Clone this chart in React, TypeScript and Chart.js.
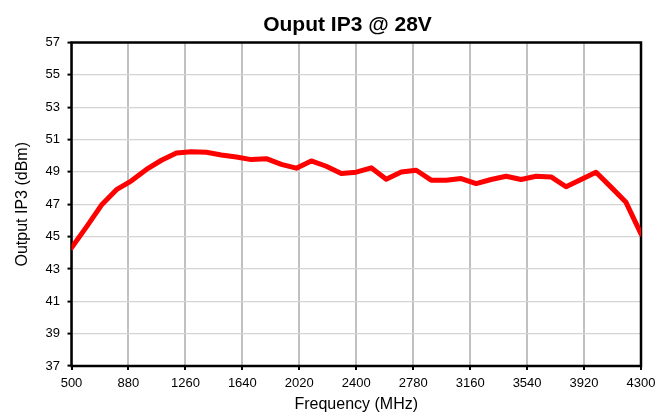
import React, { useEffect, useRef } from "react";
import { Chart, registerables } from "chart.js";

Chart.register(...registerables);

const FREQ_MHZ = [
  500, 600, 700, 800, 900, 1000, 1100, 1200, 1300, 1400, 1500, 1600, 1700,
  1800, 1900, 2000, 2100, 2200, 2300, 2400, 2500, 2600, 2700, 2800, 2900,
  3000, 3100, 3200, 3300, 3400, 3500, 3600, 3700, 3800, 3900, 4000, 4100,
  4200, 4300,
];
const OIP3_DBM = [
  44.3, 45.6, 46.95, 47.9, 48.45, 49.15, 49.72, 50.17, 50.25, 50.21, 50.05,
  49.92, 49.76, 49.82, 49.47, 49.23, 49.68, 49.35, 48.9, 48.98, 49.25, 48.55,
  49.0, 49.1, 48.49, 48.49, 48.59, 48.28, 48.53, 48.73, 48.53, 48.73, 48.69,
  48.08, 48.53, 48.98, 48.06, 47.12, 45.17,
];
const X_MIN = 500;
const X_MAX = 4300;
const X_STEP = 380;
const Y_MIN = 37;
const Y_MAX = 57;
const Y_STEP = 2;

const TITLE = "Ouput IP3 @ 28V";
const X_TITLE = "Frequency (MHz)";
const Y_TITLE = "Output IP3 (dBm)";

const FONT = "'Liberation Sans', Arial, Helvetica, sans-serif";

export default function App() {
  const ref = useRef<HTMLCanvasElement | null>(null);

  useEffect(() => {
    document.body.style.margin = "0";
    const canvas = ref.current;
    if (!canvas) return;

    const framePlugin = {
      id: "frame",
      beforeDatasetsDraw(chart: any) {
        const { ctx, chartArea } = chart;
        ctx.save();
        ctx.strokeStyle = "#000";
        ctx.lineWidth = 2.5;
        ctx.strokeRect(
          chartArea.left,
          chartArea.top,
          chartArea.right - chartArea.left,
          chartArea.bottom - chartArea.top
        );
        ctx.restore();
      },
      afterDraw(chart: any) {
        const { ctx } = chart;
        ctx.save();
        ctx.fillStyle = "#000";
        ctx.font = `bold 21px ${FONT}`;
        ctx.textAlign = "center";
        ctx.textBaseline = "alphabetic";
        ctx.fillText(TITLE, 347.5, 30.7);
        ctx.restore();
      },
    };

    const chart = new Chart(canvas, {
      type: "line",
      data: {
        datasets: [
          {
            label: Y_TITLE,
            data: FREQ_MHZ.map((f, i) => ({ x: f, y: OIP3_DBM[i] })),
            borderColor: "#ff0000",
            backgroundColor: "#ff0000",
            borderWidth: 5,
            pointRadius: 0,
            tension: 0,
            borderJoinStyle: "round",
            borderCapStyle: "round",
          },
        ],
      },
      options: {
        responsive: false,
        animation: false,
        layout: { padding: { top: 42.5, right: 27, left: 0, bottom: 0 } },
        plugins: {
          legend: { display: false },
          title: { display: false },
          tooltip: { enabled: false },
        },
        scales: {
          x: {
            type: "linear",
            min: X_MIN,
            max: X_MAX,
            afterFit: (s: any) => {
              s.height = 49;
            },
            ticks: {
              stepSize: X_STEP,
              color: "#000",
              font: { family: FONT, size: 13 },
              padding: 6,
              maxRotation: 0,
              autoSkip: false,
              callback: (v: any) => String(v),
            },
            grid: {
              color: "#c0c0c0",
              lineWidth: 2,
              drawTicks: true,
              tickLength: 4,
              tickColor: "#000",
              tickWidth: 2,
            },
            border: { display: false },
            title: {
              display: true,
              text: X_TITLE,
              color: "#000",
              font: { family: FONT, size: 16 },
              padding: { top: 0, bottom: 1 },
            },
          },
          y: {
            min: Y_MIN,
            max: Y_MAX,
            afterFit: (s: any) => {
              s.width = 71.5;
            },
            ticks: {
              stepSize: Y_STEP,
              color: "#000",
              font: { family: FONT, size: 13 },
              padding: 7.5,
              callback: (v: any) => String(v),
            },
            grid: {
              color: "#d4d4d4",
              lineWidth: 1.2,
              drawTicks: true,
              tickLength: 4,
              tickColor: "#000",
              tickWidth: 2,
            },
            border: { display: false },
            title: {
              display: true,
              text: Y_TITLE,
              color: "#000",
              font: { family: FONT, size: 16 },
              padding: { top: 13, bottom: 0 },
            },
          },
        },
      },
      plugins: [framePlugin],
    } as any);

    return () => chart.destroy();
  }, []);

  return (
    <div style={{ width: 668, height: 415, background: "#fff" }}>
      <canvas ref={ref} width={668} height={415} style={{ display: "block" }} />
    </div>
  );
}
